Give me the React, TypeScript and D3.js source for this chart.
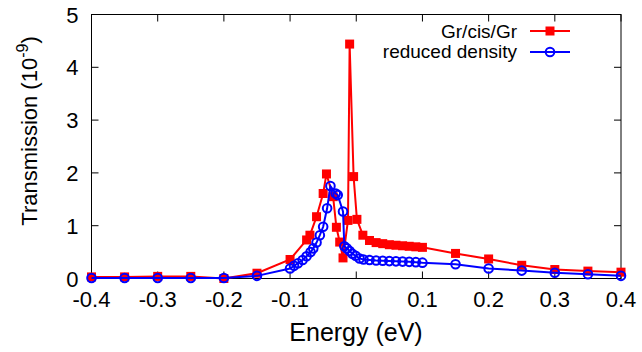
import { useEffect, useRef } from 'react';
import * as d3 from 'd3';

// Gr/cis/Gr (red squares)
const redE = [-0.4, -0.35, -0.3, -0.25, -0.2, -0.15, -0.1, -0.075, -0.07, -0.06, -0.05, -0.045, -0.035, -0.03, -0.025, -0.02, -0.0125, -0.01, -0.004, 0.001, 0.01, 0.02, 0.03, 0.04, 0.05, 0.06, 0.07, 0.08, 0.09, 0.1, 0.15, 0.2, 0.25, 0.3, 0.35, 0.4];
const redT = [0.03, 0.03, 0.04, 0.04, 0.0, 0.1, 0.36, 0.73, 0.82, 1.17, 1.61, 1.98, 1.55, 0.97, 0.69, 0.39, 1.1, 4.44, 1.93, 1.12, 0.82, 0.72, 0.68, 0.66, 0.64, 0.63, 0.62, 0.61, 0.6, 0.59, 0.475, 0.37, 0.25, 0.17, 0.14, 0.12];

// reduced density (blue circles)
const blueE = [-0.4, -0.35, -0.3, -0.25, -0.2, -0.15, -0.1, -0.094, -0.088, -0.081, -0.075, -0.069, -0.065, -0.06, -0.055, -0.05, -0.044, -0.039, -0.031, -0.028, -0.02, -0.018, -0.014, -0.01, -0.006, -0.001, 0.005, 0.011, 0.02, 0.03, 0.04, 0.05, 0.06, 0.07, 0.08, 0.09, 0.1, 0.15, 0.2, 0.25, 0.3, 0.35, 0.4];
const blueT = [0.01, 0.01, 0.01, 0.01, 0.01, 0.05, 0.19, 0.24, 0.29, 0.35, 0.42, 0.5, 0.57, 0.68, 0.82, 0.98, 1.33, 1.75, 1.61, 1.58, 1.27, 0.61, 0.57, 0.52, 0.47, 0.43, 0.38, 0.36, 0.35, 0.34, 0.335, 0.33, 0.325, 0.32, 0.315, 0.31, 0.3, 0.27, 0.19, 0.15, 0.11, 0.08, 0.05];

const xTicks = [-0.4, -0.3, -0.2, -0.1, 0, 0.1, 0.2, 0.3, 0.4];
const yTicks = [0, 1, 2, 3, 4, 5];

const W = 642, H = 352;
const FONT = 'Liberation Sans, Arial, sans-serif';

export default function App() {
  const ref = useRef<SVGSVGElement | null>(null);
  useEffect(() => {
    const svg = d3.select(ref.current!);
    svg.selectAll('*').remove();
    const x = d3.scaleLinear().domain([-0.4, 0.4]).range([91.5, 621]);
    const y = d3.scaleLinear().domain([0, 5]).range([278.5, 14.5]);
    const [x0, x1] = x.range();
    const [y0, y1] = y.range();
    const tl = 7;

    const ax = svg.append('g').attr('stroke', '#000').attr('stroke-width', 1);
    xTicks.forEach((t) => {
      ax.append('line').attr('x1', x(t)).attr('x2', x(t)).attr('y1', y0).attr('y2', y0 - tl);
      ax.append('line').attr('x1', x(t)).attr('x2', x(t)).attr('y1', y1).attr('y2', y1 + tl);
    });
    yTicks.forEach((t) => {
      ax.append('line').attr('x1', x0).attr('x2', x0 + tl).attr('y1', y(t)).attr('y2', y(t));
      ax.append('line').attr('x1', x1).attr('x2', x1 - tl).attr('y1', y(t)).attr('y2', y(t));
    });
    ax.append('rect').attr('x', x0).attr('y', y1).attr('width', x1 - x0).attr('height', y0 - y1).attr('fill', 'none');

    const txt = svg.append('g').attr('font-family', FONT).attr('font-size', 22).attr('fill', '#000');
    xTicks.forEach((t) => {
      txt.append('text').attr('x', x(t)).attr('y', y0 + 28).attr('text-anchor', 'middle').text(t === 0 ? '0' : d3.format('.1f')(t).replace('−', '-'));
    });
    yTicks.forEach((t) => {
      txt.append('text').attr('x', x0 - 13).attr('y', y(t) + 8).attr('text-anchor', 'end').text(String(t));
    });
    txt.append('text').attr('x', 356).attr('y', 341).attr('text-anchor', 'middle').attr('font-size', 25).text('Energy (eV)');
    const yl = txt.append('text').attr('transform', 'translate(37,131) rotate(-90)').attr('text-anchor', 'middle').attr('font-size', 22);
    yl.append('tspan').text('Transmission (10');
    yl.append('tspan').attr('font-size', 16).attr('dy', -9).text('-9');
    yl.append('tspan').attr('dy', 9).text(')');

    const line = d3.line<[number, number]>().x((d) => x(d[0])).y((d) => y(d[1]));
    const red: [number, number][] = redE.map((e, i) => [e, redT[i]]);
    const blue: [number, number][] = blueE.map((e, i) => [e, blueT[i]]);
    const sq = 9;

    svg.append('path').attr('d', line(red)).attr('fill', 'none').attr('stroke', '#ff0000').attr('stroke-width', 2);
    svg.append('g').selectAll('rect').data(red).enter().append('rect')
      .attr('x', (d) => x(d[0]) - sq / 2).attr('y', (d) => y(d[1]) - sq / 2).attr('width', sq).attr('height', sq).attr('fill', '#ff0000');

    svg.append('path').attr('d', line(blue)).attr('fill', 'none').attr('stroke', '#0000ff').attr('stroke-width', 2);
    svg.append('g').selectAll('circle').data(blue).enter().append('circle')
      .attr('cx', (d) => x(d[0])).attr('cy', (d) => y(d[1])).attr('r', 4.3).attr('fill', 'none').attr('stroke', '#0000ff').attr('stroke-width', 2);

    // legend
    const lg = svg.append('g').attr('font-family', FONT).attr('font-size', 19);
    const lx1 = 530, lx2 = 570, lxm = 550;
    lg.append('text').attr('x', 517).attr('y', 38).attr('text-anchor', 'end').text('Gr/cis/Gr');
    lg.append('line').attr('x1', lx1).attr('x2', lx2).attr('y1', 31).attr('y2', 31).attr('stroke', '#ff0000').attr('stroke-width', 2);
    lg.append('rect').attr('x', lxm - sq / 2).attr('y', 31 - sq / 2).attr('width', sq).attr('height', sq).attr('fill', '#ff0000');
    lg.append('text').attr('x', 517).attr('y', 58).attr('text-anchor', 'end').text('reduced density');
    lg.append('line').attr('x1', lx1).attr('x2', lx2).attr('y1', 52).attr('y2', 52).attr('stroke', '#0000ff').attr('stroke-width', 2);
    lg.append('circle').attr('cx', lxm).attr('cy', 52).attr('r', 4.3).attr('fill', 'none').attr('stroke', '#0000ff').attr('stroke-width', 2);
  }, []);
  return <svg ref={ref} width={W} height={H} style={{ position: 'absolute', left: 0, top: 0, background: '#fff' }} />;
}
